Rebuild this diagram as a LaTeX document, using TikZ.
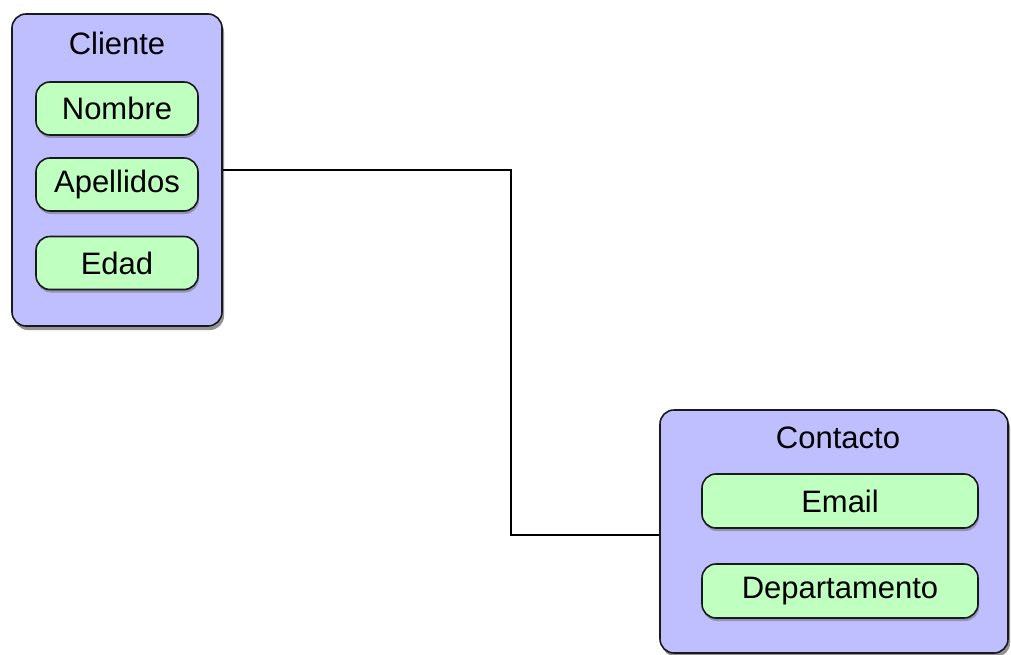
\documentclass[tikz,border=0pt]{standalone}
\usepackage{fontspec}
\setmainfont{Liberation Sans}
\usetikzlibrary{shadows}
\definecolor{entblue}{HTML}{BFBFFF}
\definecolor{attrgreen}{HTML}{BFFFC0}
\definecolor{edgegray}{HTML}{1A1A1A}
\begin{document}
\begin{tikzpicture}[x=1pt,y=-1pt,
  entity/.style={draw=edgegray, line width=1.6pt, fill=entblue, rounded corners=14pt,
    inner sep=0pt, drop shadow={shadow xshift=2pt, shadow yshift=-4pt, opacity=0.6, fill=black!70}},
  attr/.style={draw=edgegray, line width=1.6pt, fill=attrgreen, rounded corners=14pt,
    inner sep=0pt, font=\fontsize{31}{37}\selectfont,
    drop shadow={shadow xshift=1pt, shadow yshift=-3pt, opacity=0.5, fill=black!60}},
  title/.style={font=\fontsize{31}{37}\selectfont, inner sep=0pt},
  link/.style={draw=black, line width=1.2pt}]
\useasboundingbox (0,0) rectangle (1011,655);
\fill[white] (0,0) rectangle (1011,655);
% Cliente
\node[entity, minimum width=210pt, minimum height=312pt] (cliente) at (117,170) {};
\node[title] (clientet) at (117,43) {Cliente};
\node[attr, minimum width=162pt, minimum height=53pt] (nombre) at (117,108.5) {Nombre};
\node[attr, minimum width=162pt, minimum height=53pt] (apellidos) at (117,184.5) {Apellidos};
\node[attr, minimum width=162pt, minimum height=53pt] (edad) at (117,263) {Edad};
% Contacto
\node[entity, minimum width=348pt, minimum height=243pt] (contacto) at (834,531.5) {};
\node[title] (contactot) at (838,438) {Contacto};
\node[attr, minimum width=276pt, minimum height=54pt] (email) at (840,501) {Email};
\node[attr, minimum width=276pt, minimum height=54pt] (depto) at (840,591) {Departamento};
% connector
\coordinate (m) at (511,0);
\coordinate (cw) at ([yshift=-3.5pt]contacto.west);
\draw[link] (cliente.east) -- (cliente.east -| m) -- (m |- cw) -- (cw);
\end{tikzpicture}
\end{document}
